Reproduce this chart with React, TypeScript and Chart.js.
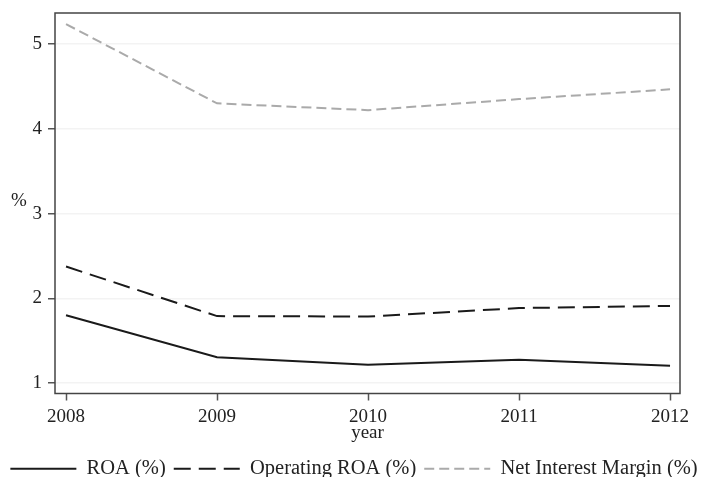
import React, { useEffect, useRef } from "react";
import { Chart, registerables } from "chart.js";

Chart.register(...registerables);

const years = [2008, 2009, 2010, 2011, 2012];
const roa = [1.8, 1.305, 1.215, 1.275, 1.205];
const opRoa = [2.375, 1.79, 1.785, 1.885, 1.91];
const nim = [5.235, 4.3, 4.22, 4.35, 4.465];
const yTicks = [1, 2, 3, 4, 5];
const seriesLabels = ["ROA (%)", "Operating ROA (%)", "Net Interest Margin (%)"];
const xTitle = "year";
const yTitle = "%";

const FONT = "'Liberation Serif', 'Times New Roman', serif";

export default function App() {
  const ref = useRef<HTMLCanvasElement | null>(null);

  useEffect(() => {
    document.body.style.margin = "0";
    const canvas = ref.current!;
    const toPts = (arr: number[]) => years.map((x, i) => ({ x, y: arr[i] }));

    const framePlugin = {
      id: "framePlugin",
      afterDraw(chart: any) {
        const ctx = chart.ctx;
        const a = chart.chartArea;
        ctx.save();
        ctx.strokeStyle = "#444";
        ctx.lineWidth = 1.5;
        ctx.strokeRect(a.left, a.top, a.right - a.left, a.bottom - a.top);
        ctx.font = `19px ${FONT}`;
        ctx.fillStyle = "#222";
        ctx.textAlign = "center";
        ctx.textBaseline = "middle";
        ctx.fillText(yTitle, 19, 201);
        ctx.fillText(xTitle, (a.left + a.right) / 2, a.bottom + 40);
        ctx.restore();
      },
    };

    const chart = new Chart(canvas, {
      type: "line",
      data: {
        datasets: [
          {
            label: seriesLabels[0],
            data: toPts(roa),
            borderColor: "#1a1a1a",
            backgroundColor: "#1a1a1a",
            borderWidth: 2,
            pointRadius: 0,
            tension: 0,
          },
          {
            label: seriesLabels[1],
            data: toPts(opRoa),
            borderColor: "#1a1a1a",
            backgroundColor: "#1a1a1a",
            borderWidth: 2,
            borderDash: [17, 8],
            pointRadius: 0,
            tension: 0,
          },
          {
            label: seriesLabels[2],
            data: toPts(nim),
            borderColor: "#aaaaaa",
            backgroundColor: "#aaaaaa",
            borderWidth: 2,
            borderDash: [10, 5],
            pointRadius: 0,
            tension: 0,
          },
        ],
      },
      options: {
        animation: false,
        responsive: false,
        devicePixelRatio: 1,
        layout: { padding: { top: 13, left: 0, right: 0, bottom: -12 } },
        plugins: {
          tooltip: { enabled: false },
          legend: {
            display: true,
            position: "bottom",
            labels: {
              usePointStyle: true,
              pointStyle: "line",
              pointStyleWidth: 66,
              padding: 8,
              color: "#222",
              font: { family: FONT, size: 20.5 },
              generateLabels: (c: any) => {
                const items = Chart.defaults.plugins.legend.labels.generateLabels(c);
                return items.map((it: any) => {
                  const ds = c.data.datasets[it.datasetIndex];
                  return {
                    ...it,
                    lineDash: ds.borderDash || [],
                    lineWidth: 2,
                    strokeStyle: ds.borderColor,
                    fillStyle: ds.borderColor,
                    pointStyle: "line",
                  };
                });
              },
            },
          },
        },
        scales: {
          x: {
            type: "linear",
            min: 2007.927,
            max: 2012.066,
            afterBuildTicks: (s: any) => {
              s.ticks = years.map((v) => ({ value: v }));
            },
            afterFit: (s: any) => {
              s.height = 57;
              s.paddingLeft = 0;
              s.paddingRight = 0;
            },
            ticks: {
              color: "#222",
              font: { family: FONT, size: 19 },
              padding: 5,
              maxRotation: 0,
              autoSkip: false,
              callback: (v: any) => String(v),
            },
            grid: {
              display: true,
              drawOnChartArea: false,
              drawTicks: true,
              tickLength: 7,
              tickColor: "#555",
              tickWidth: 1.5,
            },
            border: { display: false },
          },
          y: {
            type: "linear",
            position: "left",
            min: 0.877,
            max: 5.366,
            afterBuildTicks: (s: any) => {
              s.ticks = yTicks.map((v) => ({ value: v }));
            },
            afterFit: (s: any) => {
              s.width = 55;
              s.paddingTop = 0;
              s.paddingBottom = 0;
            },
            ticks: {
              color: "#222",
              font: { family: FONT, size: 19 },
              padding: 6,
              callback: (v: any) => String(v),
            },
            grid: {
              display: true,
              color: "#f3f3f3",
              lineWidth: 1.5,
              tickLength: 7,
              tickColor: "#555",
              tickWidth: 1.5,
            },
            border: { display: false },
          },
          yRight: {
            type: "linear",
            position: "right",
            display: true,
            min: 0,
            max: 1,
            afterFit: (s: any) => {
              s.width = 28;
              s.paddingTop = 0;
              s.paddingBottom = 0;
            },
            ticks: { display: false },
            grid: { display: false, drawOnChartArea: false, drawTicks: false },
            border: { display: false },
          },
        },
      },
      plugins: [framePlugin],
    } as any);

    return () => {
      chart.destroy();
    };
  }, []);

  return (
    <div style={{ width: 708, height: 477, background: "#fff" }}>
      <canvas ref={ref} width={708} height={477} style={{ display: "block" }} />
    </div>
  );
}
